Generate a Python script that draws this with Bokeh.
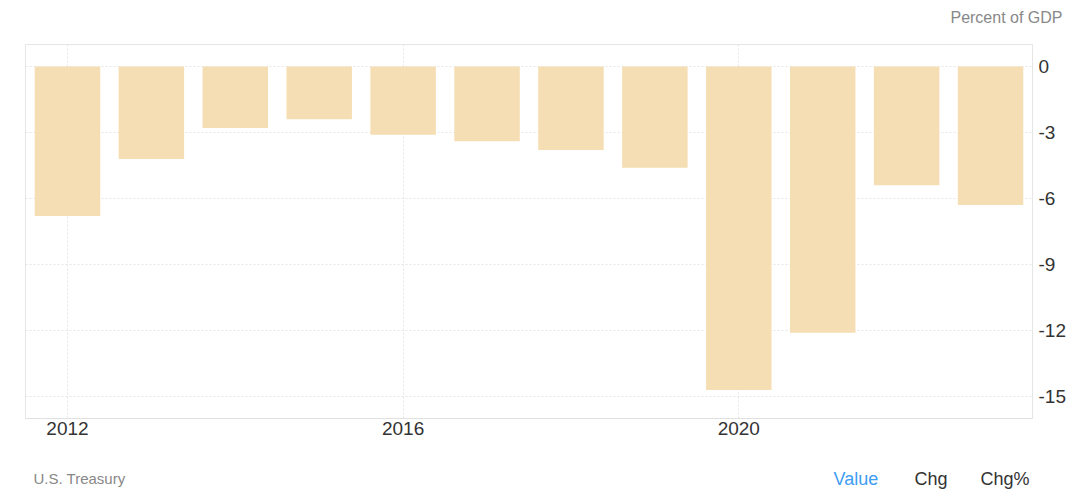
from bokeh.plotting import figure
from bokeh.models import ColumnDataSource, FixedTicker, Range1d, PrintfTickFormatter
from bokeh.layouts import column
from bokeh.core.properties import value
from bokeh.embed import file_html
from bokeh.resources import INLINE

years = [2012, 2013, 2014, 2015, 2016, 2017, 2018, 2019, 2020, 2021, 2022, 2023]
deficit = [-6.8, -4.2, -2.8, -2.4, -3.1, -3.4, -3.8, -4.6, -14.7, -12.1, -5.4, -6.3]
x_ticks = [2012, 2016, 2020]
y_ticks = [0, -3, -6, -9, -12, -15]
unit_text = ["Percent of GDP"]
source_text = ["U.S. Treasury"]
tabs = ["Value", "Chg", "Chg%"]
tab_colors = ["#3d9df3", "#333333", "#333333"]

FONT = "Liberation Sans"
W = 1066

def strip(h):
    f = figure(width=W, height=h, output_backend="svg", toolbar_location=None,
               x_range=Range1d(0, W), y_range=Range1d(h, 0),
               min_border=0, min_border_left=0, min_border_right=0,
               min_border_top=0, min_border_bottom=0,
               x_axis_type=None, y_axis_type=None)
    f.frame_align = False
    f.outline_line_color = None
    f.grid.visible = False
    return f

# ---- top strip with unit text
pt = strip(36)
pt.text(x=[1062], y=[17], text=unit_text, text_font=value(FONT), text_font_size="16px",
        text_color="#888888", text_align="right", text_baseline="middle")

# ---- main chart
src = ColumnDataSource(dict(year=years, value=deficit))
p = figure(frame_width=1007, frame_height=374, output_backend="svg", toolbar_location=None,
           x_range=Range1d(2011.5, 2023.5), y_range=Range1d(-16, 1),
           y_axis_location="right",
           min_border_left=25, min_border_top=8, min_border_bottom=36, min_border_right=20)
p.frame_align = False

p.vbar(x="year", top=0, bottom="value", width=0.78, source=src,
       fill_color="#f5deb3", line_color=None)

p.outline_line_color = "#e6e6e6"

for g in (p.xgrid, p.ygrid):
    g.grid_line_color = "#e6e6e6"
    g.grid_line_dash = "2 2"
    g.grid_line_width = 1

p.xaxis.ticker = FixedTicker(ticks=x_ticks)
p.yaxis.ticker = FixedTicker(ticks=y_ticks)
p.yaxis.formatter = PrintfTickFormatter(format="%d")
for ax in (p.xaxis, p.yaxis):
    ax.minor_tick_line_color = None
    ax.major_tick_line_color = None
    ax.major_tick_out = 0
    ax.major_tick_in = 0
    ax.minor_tick_out = 0
    ax.major_label_text_font = FONT
    ax.major_label_text_font_size = "19px"
    ax.major_label_text_color = "#333333"
p.xaxis.axis_line_color = "#e0e0e0"
p.yaxis.axis_line_color = "#e6e6e6"
p.xaxis.major_label_standoff = 3
p.yaxis.major_label_standoff = 6

# ---- bottom strip with source and tabs
pb = strip(40)
pb.text(x=[33], y=[24], text=source_text, text_font=value(FONT), text_font_size="15px",
        text_color="#888888", text_align="left", text_baseline="middle")
pb.text(x=[833, 914, 980], y=[24, 24, 24], text=tabs, text_font=value(FONT),
        text_font_size="18px", text_color=tab_colors, text_align="left",
        text_baseline="middle")

layout = column(pt, p, pb, spacing=0)
open("out.html", "w").write(file_html(layout, INLINE))
